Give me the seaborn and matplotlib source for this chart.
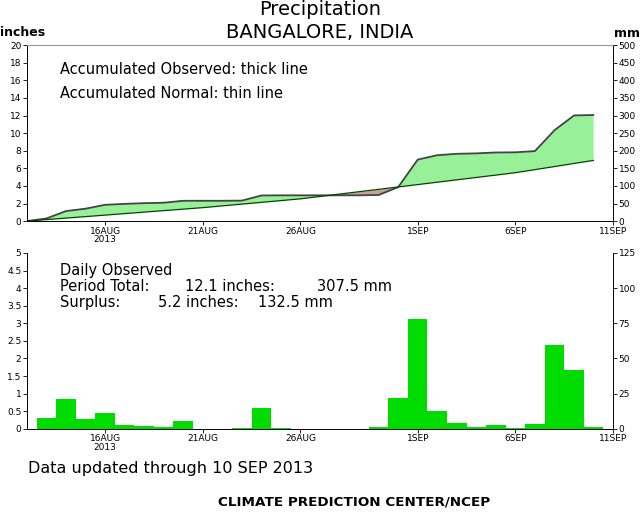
import numpy as np
import pandas as pd
import seaborn as sns
import matplotlib
matplotlib.use("Agg")
import matplotlib.pyplot as plt

# daily observed rain (inches), 13AUG..10SEP 2013
days = pd.date_range("2013-08-13", "2013-09-10", freq="D")
daily_obs = [0.30, 0.84, 0.27, 0.44, 0.11, 0.08, 0.05, 0.22, 0.00, 0.00,
             0.02, 0.58, 0.02, 0.00, 0.00, 0.00, 0.00, 0.04, 0.89, 3.13,
             0.50, 0.16, 0.05, 0.10, 0.02, 0.14, 2.37, 1.68, 0.05]
# daily normal rain (inches)
daily_norm = [0.17] * 9 + [0.20] * 5 + [0.27] * 11 + [0.35] * 4

tick_days = ["2013-08-16", "2013-08-21", "2013-08-26", "2013-09-01", "2013-09-06", "2013-09-11"]
tick_labels = ["16AUG\n2013", "21AUG", "26AUG", "1SEP", "6SEP", "11SEP"]

start = pd.Timestamp("2013-08-12")
x = np.array([(d - start).days for d in days])
xt = [(pd.Timestamp(t) - start).days for t in tick_days]

# cumulative series, starting from 0 on 12AUG
xc = np.concatenate([[0], x])
acc_obs = np.concatenate([[0], np.cumsum(daily_obs)])
acc_norm = np.concatenate([[0], np.cumsum(daily_norm)])

sns.set_style("white")
plt.rcParams["font.family"] = ["DejaVu Sans"]
plt.rcParams["text.color"] = "black"
plt.rcParams["xtick.color"] = "black"
plt.rcParams["ytick.color"] = "black"

fig = plt.figure(figsize=(6.4, 5.13), dpi=100)
ax1 = fig.add_axes([0.042, 0.569, 0.916, 0.343])
ax2 = fig.add_axes([0.042, 0.164, 0.916, 0.343])

# top panel: accumulated
ax1.fill_between(xc, acc_norm, acc_obs, where=acc_obs >= acc_norm, interpolate=True,
                 color="#98f098", lw=0)
ax1.fill_between(xc, acc_norm, acc_obs, where=acc_obs < acc_norm, interpolate=True,
                 color="#c8a096", lw=0)
sns.lineplot(x=xc, y=acc_obs, ax=ax1, color="#444444", lw=1.3)
sns.lineplot(x=xc, y=acc_norm, ax=ax1, color="#004400", lw=0.9)
ax1.set_ylim(0, 20)
ax1.set_yticks(range(0, 21, 2))

# bottom panel: daily bars
ax2.bar(x, daily_obs, width=1.0, color="#00dc00", lw=0)
ax2.set_ylim(0, 5)
ax2.set_yticks(np.arange(0, 5.01, 0.5))
ax2.set_yticklabels(["0", "0.5", "1", "1.5", "2", "2.5", "3", "3.5", "4", "4.5", "5"])

for ax, mmmax, mmstep in [(ax1, 500, 50), (ax2, 125, 25)]:
    ax.set_xlim(0, 30)
    ax.set_xticks(xt)
    ax.set_xticklabels(tick_labels, fontsize=6.5, linespacing=0.9)
    ax.tick_params(axis="both", direction="out", length=3, width=0.6, pad=1,
                   left=True, bottom=True, labelsize=6.5, colors="black")
    ax.set_xlabel("")
    ax.set_ylabel("")
    for s in ["left", "bottom", "right"]:
        ax.spines[s].set_color("black")
        ax.spines[s].set_linewidth(0.7)
    axr = ax.twinx()
    axr.set_ylim(0, mmmax)
    axr.set_yticks(range(0, mmmax + 1, mmstep))
    axr.tick_params(axis="y", direction="out", length=3, width=0.6, pad=1,
                    right=True, labelsize=6.5, colors="black")
    for s in axr.spines.values():
        s.set_visible(False)

ax1.spines["top"].set_color("#999999")
ax1.spines["top"].set_linewidth(0.8)
ax2.spines["top"].set_visible(False)


def px(v):
    # horizontal pixel position -> axes fraction
    return (v - 27) / 586.0


fs = 10.5
ax1.text(px(60), 0.86, "Accumulated Observed: thick line", transform=ax1.transAxes,
         fontsize=fs, va="center")
ax1.text(px(60), 0.725, "Accumulated Normal: thin line", transform=ax1.transAxes,
         fontsize=fs, va="center")
ax2.text(px(60), 0.90, "Daily Observed", transform=ax2.transAxes, fontsize=fs, va="center")
ax2.text(px(60), 0.81, "Period Total:", transform=ax2.transAxes, fontsize=fs, va="center")
ax2.text(px(185), 0.81, "12.1 inches:", transform=ax2.transAxes, fontsize=fs, va="center")
ax2.text(px(317), 0.81, "307.5 mm", transform=ax2.transAxes, fontsize=fs, va="center")
ax2.text(px(60), 0.72, "Surplus:", transform=ax2.transAxes, fontsize=fs, va="center")
ax2.text(px(158), 0.72, "5.2 inches:", transform=ax2.transAxes, fontsize=fs, va="center")
ax2.text(px(258), 0.72, "132.5 mm", transform=ax2.transAxes, fontsize=fs, va="center")

fig.text(0.5, 0.981, "Precipitation", ha="center", va="center", fontsize=14)
fig.text(0.5, 0.937, "BANGALORE, INDIA", ha="center", va="center", fontsize=14)
fig.text(0.0, 0.937, "inches", ha="left", va="center", fontsize=9, fontweight="bold")
fig.text(1.0, 0.935, "mm", ha="right", va="center", fontsize=9, fontweight="bold")
fig.text(0.044, 0.086, "Data updated through 10 SEP 2013", ha="left", va="center", fontsize=11.5)
fig.text(0.553, 0.022, "CLIMATE PREDICTION CENTER/NCEP", ha="center", va="center",
         fontsize=9.7, fontweight="bold")

fig.savefig("out.png", dpi=100)
